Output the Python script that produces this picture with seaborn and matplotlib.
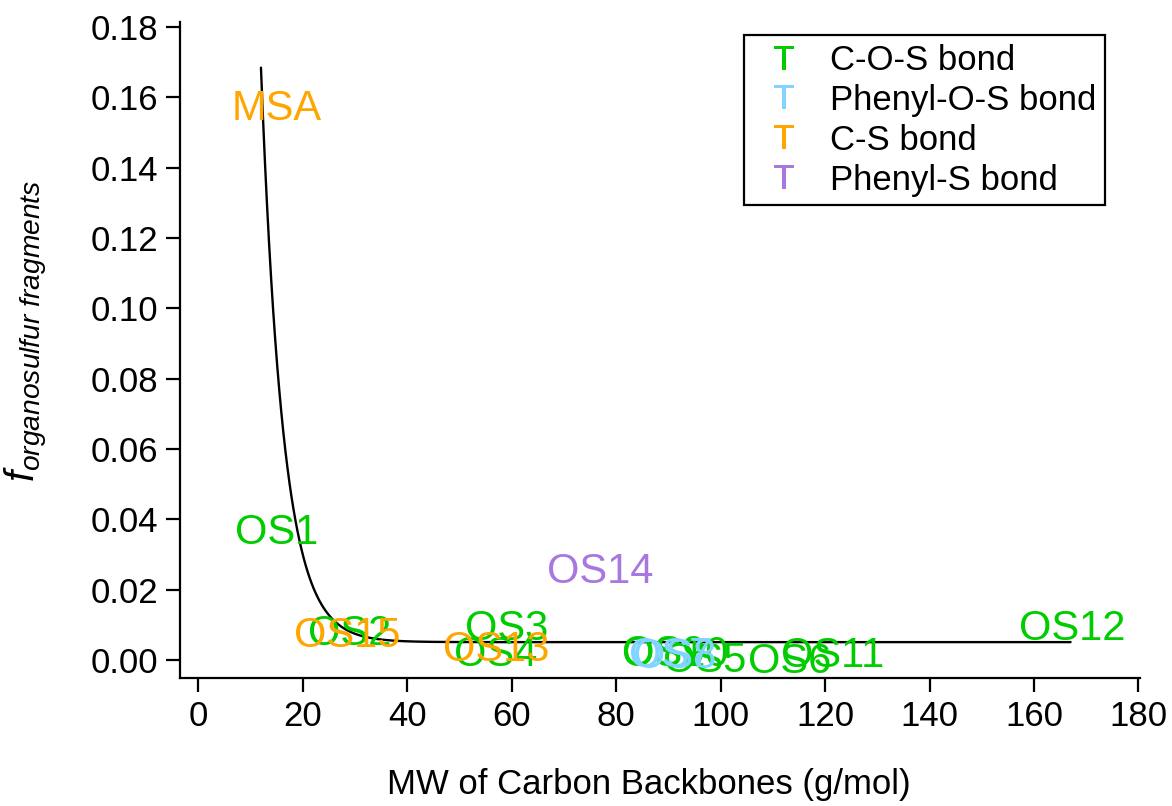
import numpy as np
import pandas as pd
import matplotlib
matplotlib.use("Agg")
import matplotlib.pyplot as plt
import seaborn as sns
from matplotlib.lines import Line2D

# ---- data ----
labels = ["OS1", "OS2", "OS3", "OS4", "OS9", "OS10", "OS5", "OS6", "OS11", "OS12",
          "OS7", "OS8",
          "MSA", "OS15", "OS13",
          "OS14"]
mw = [15.0, 29.0, 59.0, 57.0, 89.2, 91.3, 97.0, 113.3, 121.5, 167.3,
      90.4, 91.2,
      15.0, 28.5, 57.0,
      77.0]
frac = [0.0375, 0.0086, 0.0100, 0.0027, 0.0029, 0.0027, 0.0011, 0.0006, 0.0023, 0.0101,
        0.0023, 0.0021,
        0.1580, 0.0082, 0.0040,
        0.0264]
bond = ["C-O-S bond"] * 10 + ["Phenyl-O-S bond"] * 2 + ["C-S bond"] * 3 + ["Phenyl-S bond"]

categories = ["C-O-S bond", "Phenyl-O-S bond", "C-S bond", "Phenyl-S bond"]
colors = ["#00CC00", "#80D4FF", "#FFA500", "#A878E0"]

# exponential fit shown in the chart: y = y0 + A * exp(-k * x)
fit_y0 = 0.0051
fit_A = 2.74
fit_k = 0.235
fit_xmin, fit_xmax = 12.0, 167.0

xticks = [0, 20, 40, 60, 80, 100, 120, 140, 160, 180]
yticks = [0.00, 0.02, 0.04, 0.06, 0.08, 0.10, 0.12, 0.14, 0.16, 0.18]

# ---- styling ----
sns.set_style("ticks")
plt.rcParams["font.family"] = ["Liberation Sans", "DejaVu Sans"]
plt.rcParams["mathtext.fontset"] = "custom"
plt.rcParams["mathtext.rm"] = "Liberation Sans"
plt.rcParams["mathtext.it"] = "Liberation Sans:italic"
plt.rcParams["mathtext.bf"] = "Liberation Sans:bold"
plt.rcParams["text.color"] = "black"
plt.rcParams["axes.labelcolor"] = "black"

df = pd.DataFrame({"label": labels, "mw": mw, "frac": frac, "bond": bond})
fit_x = np.linspace(fit_xmin, fit_xmax, 400)
fit_df = pd.DataFrame({"x": fit_x, "y": fit_y0 + fit_A * np.exp(-fit_k * fit_x)})

fig = plt.figure(figsize=(11.72, 8.06), dpi=100)
ax = fig.add_axes([180 / 1172, 1 - 678 / 806, 960 / 1172, (678 - 22) / 806])

sns.lineplot(data=fit_df, x="x", y="y", color="black", linewidth=1.7, ax=ax, zorder=3)

cmap = dict(zip(categories, colors))
order = {c: i for i, c in enumerate(categories)}
for _, r in df.iterrows():
    ax.text(r["mw"], r["frac"], r["label"], color=cmap[r["bond"]], fontsize=30,
            ha="center", va="center_baseline", zorder=4 + order[r["bond"]])

ax.set_xlim(-3.5, 180.3)
ax.set_ylim(-0.0051, 0.1814)
ax.set_xticks(xticks)
ax.set_yticks(yticks)
ax.set_xticklabels([str(t) for t in xticks])
ax.set_yticklabels([f"{t:.2f}" for t in yticks])

for s in ["top", "right"]:
    ax.spines[s].set_visible(False)
for s in ["left", "bottom"]:
    ax.spines[s].set_linewidth(1.6)
    ax.spines[s].set_color("black")
ax.tick_params(axis="both", direction="out", length=10, width=1.6, labelsize=25,
               pad=6, colors="black")

ax.set_xlabel("MW of Carbon Backbones (g/mol)", fontsize=25, va="center")
ax.xaxis.set_label_coords(0.4885, -0.163)
ax.set_ylabel(r"$\mathit{f}_{\mathit{organosulfur\ fragments}}$", fontsize=29)
ax.yaxis.set_label_coords(-0.135, 0.53)

handles = [Line2D([], [], linestyle="none", marker=r"$\mathrm{T}$", color=c,
                  markersize=17, markeredgewidth=0) for c in colors]
leg = ax.legend(handles, categories, loc="upper right",
                bbox_to_anchor=(1105 / 1172, 1 - 35 / 806), bbox_transform=fig.transFigure,
                borderaxespad=0, fontsize=25, frameon=True, fancybox=False,
                edgecolor="black", framealpha=1, borderpad=0.25, labelspacing=0.2,
                handlelength=1.8, handletextpad=0.43)
leg.get_frame().set_linewidth(1.6)
for t in leg.get_texts():
    t.set_color("black")

fig.savefig("out.png", dpi=100)
